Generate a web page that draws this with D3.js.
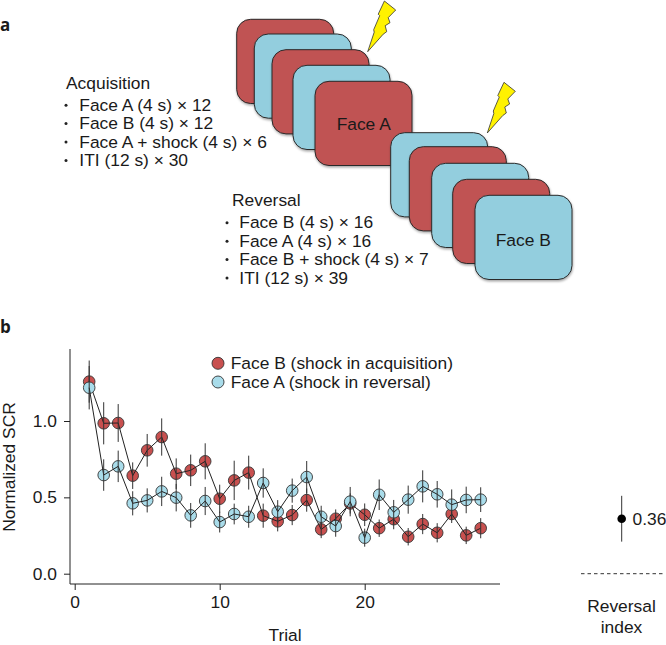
<!DOCTYPE html>
<html><head><meta charset="utf-8">
<script src="https://cdn.jsdelivr.net/npm/d3@7"></script>
<style>html,body{margin:0;padding:0;background:#fff}svg{display:block}text{font-family:"Liberation Sans",Arial,sans-serif;fill:#1a1a1a}</style>
</head><body><svg id="c" width="666" height="645"></svg>
<script>
const trials = d3.range(1, 29);
const faceB = [1.258,.985,.987,.642,.808,.895,.655,.677,.736,.491,.611,.662,.380,.343,.384,.482,.290,.360,.460,.386,.298,.357,.242,.325,.268,.391,.251,.298];
const faceBerr = [.138,.138,.124,.087,.107,.122,.100,.103,.118,.092,.129,.111,.079,.066,.066,.076,.057,.061,.066,.074,.057,.066,.057,.066,.063,.059,.057,.066];
const faceA = [1.218,.646,.703,.461,.480,.539,.498,.382,.476,.338,.391,.373,.594,.406,.544,.633,.373,.312,.472,.236,.517,.402,.485,.572,.520,.452,.483,.485];
const faceAerr = [.142,.103,.103,.079,.079,.096,.090,.081,.092,.068,.068,.072,.096,.076,.079,.105,.072,.070,.096,.059,.100,.081,.092,.105,.087,.100,.087,.081];
const xTicks = [0, 10, 20];
const yTicks = [0, 0.5, 1];
const legendLabels = ["Face B (shock in acquisition)", "Face A (shock in reversal)"];
const reversalIndex = 0.36, reversalLow = 0.21, reversalHigh = 0.51;
const acquisitionItems = ["Face A (4 s) × 12","Face B (4 s) × 12","Face A + shock (4 s) × 6","ITI (12 s) × 30"];
const reversalItems = ["Face B (4 s) × 16","Face A (4 s) × 16","Face B + shock (4 s) × 7","ITI (12 s) × 39"];
const cardFaces = ["A","B","A","B","A","B","A","B","A","B"];

const FS=17.4;
const RED="#c05252", BLUE="#93cede", LRED="#c8504f", LBLUE="#a9dcea", INK="#222";
const svg=d3.select("#c");
const defs=svg.append("defs");
const f=defs.append("filter").attr("id","sh").attr("x","-10%").attr("y","-10%").attr("width","125%").attr("height","125%");
f.append("feDropShadow").attr("dx",0.5).attr("dy",1.5).attr("stdDeviation",1.2).attr("flood-color","#000").attr("flood-opacity",0.35);

svg.append("text").attr("x",0).attr("y",31).attr("font-size",17).attr("font-weight",700).style("font-family","'Open Sans',sans-serif").text("a");
svg.append("text").attr("x",0).attr("y",332.5).attr("font-size",17).attr("font-weight",700).style("font-family","'Open Sans',sans-serif").text("b");

const cardLeft=[236.7,254.3,272,293,315,390.7,409.3,431.7,452.7,475];
const cardTop=[19.3,34,49.7,65.3,81.3,132.7,146.7,163.3,179.3,195.3];
const colour={A:RED,B:BLUE};
svg.append("g").selectAll("rect").data(cardFaces).join("rect")
 .attr("x",(d,i)=>cardLeft[i]).attr("y",(d,i)=>cardTop[i]).attr("width",97).attr("height",84.2).attr("rx",14).attr("ry",14)
 .attr("fill",d=>colour[d]).attr("stroke","#2a2a2a").attr("stroke-width",1).attr("filter","url(#sh)");
svg.append("text").attr("x",363.7).attr("y",129.5).attr("text-anchor","middle").attr("font-size",FS).text("Face A");
svg.append("text").attr("x",523.3).attr("y",246).attr("text-anchor","middle").attr("font-size",FS).text("Face B");

const bolt=[[0,0],[6.5,-19.5],[6,-22],[12,-36],[10.5,-37.5],[16.7,-50.7],[28,-41.7],[20.5,-34],[22.3,-29],[17.5,-26],[19,-20],[15.5,-17.5]];
[[367.7,51.7],[487.3,133]].forEach(p=>{
 svg.append("path").attr("transform",`translate(${p[0]},${p[1]})`)
  .attr("d",d3.line()(bolt)+"Z").attr("fill","#fff200").attr("stroke","#333").attr("stroke-width",0.8);
});

function list(title,items,tx,ty,bx,ix,iy){
 svg.append("text").attr("x",tx).attr("y",ty).attr("font-size",FS).text(title);
 items.forEach((s,i)=>{
  svg.append("circle").attr("cx",bx).attr("cy",iy+i*18.4-5.5).attr("r",1.5).attr("fill","#222");
  svg.append("text").attr("x",ix).attr("y",iy+i*18.4).attr("font-size",FS).text(s);
 });
}
list("Acquisition",acquisitionItems,66,89.3,66,79.3,110.7);
list("Reversal",reversalItems,232,205.7,227,239.3,228.3);

const x=d3.scaleLinear().domain([0,20]).range([74.7,364.7]);
const y=d3.scaleLinear().domain([0,1]).range([573.7,421]);
const axisX=70, axisY=584;
const g=svg.append("g");
g.append("line").attr("x1",axisX).attr("x2",axisX).attr("y1",349).attr("y2",axisY).attr("stroke",INK).attr("stroke-width",1);
g.append("line").attr("x1",axisX).attr("x2",500).attr("y1",axisY).attr("y2",axisY).attr("stroke",INK).attr("stroke-width",1);
const xa=g.append("g").attr("transform",`translate(0,${axisY})`).call(d3.axisBottom(x).tickValues(xTicks).tickFormat(d3.format("d")).tickSize(6).tickPadding(6));
const ya=g.append("g").attr("transform",`translate(${axisX},0)`).call(d3.axisLeft(y).tickValues(yTicks).tickFormat(d3.format(".1f")).tickSize(6).tickPadding(7));
[xa,ya].forEach(a=>{a.select(".domain").remove();a.selectAll("line").attr("stroke",INK);a.selectAll("text").attr("font-size",FS).style("font-family","'Liberation Sans'").attr("fill","#1a1a1a");});

function series(vals,errs,fill){
 const s=g.append("g");
 const line=d3.line().x((d,i)=>x(trials[i])).y(d=>y(d));
 s.selectAll("circle").data(vals).join("circle").attr("cx",(d,i)=>x(trials[i])).attr("cy",d=>y(d)).attr("r",5.8)
  .attr("fill",fill).attr("stroke","#333").attr("stroke-width",0.9);
 s.append("path").attr("d",line(vals)).attr("fill","none").attr("stroke","#222").attr("stroke-width",1);
 s.selectAll("line").data(vals).join("line").attr("x1",(d,i)=>x(trials[i])).attr("x2",(d,i)=>x(trials[i]))
  .attr("y1",(d,i)=>y(d-errs[i])).attr("y2",(d,i)=>y(d+errs[i])).attr("stroke","#333").attr("stroke-width",1);
}
series(faceB,faceBerr,LRED);
series(faceA,faceAerr,LBLUE);

legendLabels.forEach((t,i)=>{
 const yy=363.3+i*18.7;
 g.append("circle").attr("cx",218).attr("cy",yy).attr("r",6).attr("fill",i?LBLUE:LRED).attr("stroke","#333").attr("stroke-width",0.9);
 g.append("text").attr("x",230.7).attr("y",yy+6).attr("font-size",FS).text(t);
});

svg.append("text").attr("x",285).attr("y",640.5).attr("text-anchor","middle").attr("font-size",FS).text("Trial");
svg.append("text").attr("transform","translate(15,467) rotate(-90)").attr("text-anchor","middle").attr("font-size",FS).text("Normalized SCR");

const rx=621.7;
g.append("line").attr("x1",rx).attr("x2",rx).attr("y1",y(reversalLow)).attr("y2",y(reversalHigh)).attr("stroke","#333").attr("stroke-width",1);
g.append("circle").attr("cx",rx).attr("cy",y(reversalIndex)).attr("r",4.3).attr("fill","#000");
svg.append("text").attr("x",632.5).attr("y",y(reversalIndex)+6).attr("font-size",FS).text(reversalIndex.toFixed(2));
g.append("line").attr("x1",581).attr("x2",664).attr("y1",y(0)).attr("y2",y(0)).attr("stroke","#333").attr("stroke-width",1).attr("stroke-dasharray","3.5 3");
svg.append("text").attr("x",621.5).attr("y",611.7).attr("text-anchor","middle").attr("font-size",FS).text("Reversal");
svg.append("text").attr("x",621.5).attr("y",632.7).attr("text-anchor","middle").attr("font-size",FS).text("index");
</script></body></html>
